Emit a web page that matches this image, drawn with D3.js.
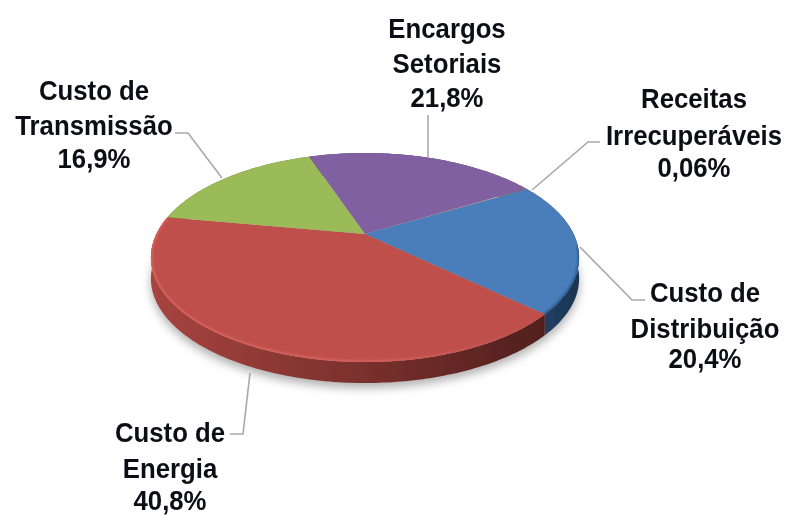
<!DOCTYPE html>
<html>
<head>
<meta charset="utf-8">
<script src="https://cdn.jsdelivr.net/npm/d3@7"></script>
<style>
    html, body { margin: 0; padding: 0; background: #fff; }
    svg { display: block; }
    text { font-family: "Liberation Sans", Arial, sans-serif; font-weight: bold; font-size: 28px; fill: #0b0b14; text-anchor: middle; }
</style>
</head>
<body>
<svg id="chart" width="785" height="515"></svg>
<script>
// values, clockwise from the purple slice
var categories = ["Encargos Setoriais", "Receitas Irrecuperáveis", "Custo de Distribuição", "Custo de Energia", "Custo de Transmissão"];
var shares = [21.8, 0.06, 20.4, 40.8, 16.9];
var shareLabels = ["21,8%", "0,06%", "20,4%", "40,8%", "16,9%"];
var colors = ["#8061a0", "#f79646", "#4a7ebb", "#bf4f4b", "#9bbb59"];
var sideColors = [
    ["#4d3a63", "#4d3a63"],
    ["#94582a", "#94582a"],
    ["#24476f", "#1c3350"],
    ["#a8443f", "#491c1a"],
    ["#5d7035", "#5d7035"]
];
var labelLines = [["Encargos", "Setoriais"], ["Receitas", "Irrecuperáveis"], ["Custo de", "Distribuição"], ["Custo de", "Energia"], ["Custo de", "Transmissão"]];

// layout of labels and leader lines
var labelPos = [
    { x: 447, y: [38, 73, 107] },
    { x: 694, y: [108, 145, 177] },
    { x: 705, y: [302, 338, 368] },
    { x: 170, y: [442, 478, 510] },
    { x: 94, y: [100, 135, 168] }
];
var leaders = [
    [[428, 115], [428, 157]],
    [[600, 142], [588, 142], [532, 190]],
    [[580, 247], [632, 300], [645, 300]],
    [[250, 373], [243, 434], [230, 434]],
    [[175, 133], [188, 133], [222, 178]]
];

// the pie lies on a tilted plane, seen with some perspective
var persp = 0.225;
var depth = 21;
var textSquash = 0.92;
var xScale = d3.scaleLinear().domain([-1, 1]).range([365 - 208.6, 365 + 208.6]);
var yScale = d3.scaleLinear().domain([-1, 1]).range([234 - 99.2, 234 + 99.2]);

function project(angle) {
    var u = Math.sin(angle);
    var v = -Math.cos(angle);
    var s = 1 / (1 - persp * v);
    return [xScale(u * s), yScale(v * s)];
}

function rim(a0, a1) {
    var n = Math.max(2, Math.ceil((a1 - a0) * 60));
    return d3.range(n + 1).map(i => project(a0 + (a1 - a0) * i / n));
}

var line = d3.line();
var svg = d3.select("#chart");
var defs = svg.append("defs");

defs.append("filter").attr("id", "shadowBlur")
    .attr("x", "-20%").attr("y", "-20%").attr("width", "140%").attr("height", "140%")
    .append("feGaussianBlur").attr("stdDeviation", 5);
defs.append("filter").attr("id", "edgeBlur")
    .attr("x", "-10%").attr("y", "-10%").attr("width", "120%").attr("height", "120%")
    .append("feGaussianBlur").attr("stdDeviation", 1.3);
defs.append("filter").attr("id", "soft")
    .append("feGaussianBlur").attr("stdDeviation", 0.45);
defs.append("filter").attr("id", "softText")
    .attr("x", "-10%").attr("y", "-20%").attr("width", "120%").attr("height", "140%")
    .append("feGaussianBlur").attr("stdDeviation", 0.3);

var slices = d3.pie().sort(null)
    .startAngle(-19 * Math.PI / 180)
    .endAngle(341 * Math.PI / 180)(shares);

// side gradients run left to right over the whole pie
slices.forEach((d, i) => {
    var g = defs.append("linearGradient").attr("id", `side-${i}`)
        .attr("gradientUnits", "userSpaceOnUse")
        .attr("x1", i == 2 ? 520 : 150).attr("x2", 580).attr("y1", 0).attr("y2", 0);
    g.append("stop").attr("offset", 0).attr("stop-color", sideColors[i][0]);
    g.append("stop").attr("offset", 1).attr("stop-color", sideColors[i][1]);
});

var bevel = defs.append("linearGradient").attr("id", "bevel")
    .attr("gradientUnits", "userSpaceOnUse")
    .attr("x1", 150).attr("x2", 540).attr("y1", 0).attr("y2", 0);
bevel.append("stop").attr("offset", 0).attr("stop-color", "#d9625d");
bevel.append("stop").attr("offset", 0.55).attr("stop-color", "#d9625d");
bevel.append("stop").attr("offset", 1).attr("stop-color", "#bf4f4b");

var outline = rim(0, 2 * Math.PI);
defs.append("clipPath").attr("id", "faceClip")
    .append("path").attr("d", line(outline) + "Z");

// soft shadow under the pie
svg.append("path")
    .attr("d", line(outline) + "Z")
    .attr("transform", `translate(0,${depth + 5})`)
    .attr("fill", "#b0b0b0")
    .attr("filter", "url(#shadowBlur)");

// leader lines
svg.append("g").selectAll("path")
    .data(leaders)
    .enter()
    .append("path")
    .attr("d", d => line(d))
    .attr("fill", "none")
    .attr("stroke", "#a9a9a9")
    .attr("stroke-width", 1.6);

var pie = svg.append("g").attr("filter", "url(#soft)");

// sides first, the top faces cover what is behind
pie.append("g").selectAll("path")
    .data(slices)
    .enter()
    .append("path")
    .attr("d", d => {
        var top = rim(d.startAngle, d.endAngle);
        var bottom = top.map(p => [p[0], p[1] + depth]).reverse();
        return line(top.concat(bottom)) + "Z";
    })
    .attr("fill", (d, i) => `url(#side-${i})`);

pie.append("g").selectAll("path")
    .data(slices)
    .enter()
    .append("path")
    .attr("d", d => line([[xScale(0), yScale(0)]].concat(rim(d.startAngle, d.endAngle))) + "Z")
    .attr("fill", (d, i) => colors[i]);

// bevel along the edge of the red face and the lower part of the blue one
var edges = pie.append("g").attr("clip-path", "url(#faceClip)");
edges.append("path")
    .attr("d", line(rim(slices[3].startAngle, slices[3].endAngle)))
    .attr("fill", "none")
    .attr("stroke", "url(#bevel)")
    .attr("stroke-width", 3.5)
    .attr("filter", "url(#edgeBlur)");
edges.append("path")
    .attr("d", line(rim((slices[2].startAngle + slices[2].endAngle) / 2, slices[2].endAngle)))
    .attr("fill", "none")
    .attr("stroke", "#2f5a8c")
    .attr("stroke-width", 3)
    .attr("filter", "url(#edgeBlur)");

// labels, one text per line, squeezed sideways to a narrow face
var labelRows = [];
categories.forEach((c, i) => {
    labelLines[i].concat(shareLabels[i]).forEach((t, j) => {
        labelRows.push({ t: t, x: labelPos[i].x, y: labelPos[i].y[j] });
    });
});

svg.append("g")
    .attr("filter", "url(#softText)")
    .selectAll("text")
    .data(labelRows)
    .enter()
    .append("text")
    .attr("transform", d => `translate(${d.x},${d.y}) scale(${textSquash},1)`)
    .text(d => d.t);
</script>
</body>
</html>
